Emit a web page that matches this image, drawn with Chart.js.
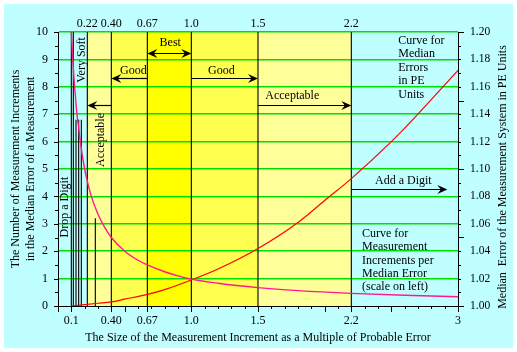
<!DOCTYPE html>
<html>
<head>
<meta charset="utf-8">
<script src="https://cdn.jsdelivr.net/npm/chart.js@4.4.1/dist/chart.umd.min.js"></script>
<style>
  body { margin: 0; background: #fff; }
  #wrap { width: 517px; height: 352px; }
</style>
</head>
<body>
<div id="wrap"><canvas id="myChart" width="517" height="352"></canvas></div>
<script>
// increment size (multiple of probable error) and the two curves
var incSize = [0.1, 0.11, 0.12, 0.13, 0.14, 0.15, 0.17, 0.2, 0.22, 0.25, 0.3, 0.35, 0.4, 0.5, 0.6, 0.67, 0.8, 0.9, 1.0, 1.2, 1.5, 1.8, 2.2, 2.6, 3.0];
var incPerError = [10, 9.1, 8.3, 7.7, 7.1, 6.7, 5.9, 5.0, 4.55, 4.0, 3.35, 2.87, 2.5, 2.0, 1.67, 1.5, 1.25, 1.1, 0.98, 0.83, 0.67, 0.56, 0.46, 0.39, 0.34];
var medSize = [0.1, 0.2, 0.3, 0.4, 0.5, 0.67, 0.8, 1.0, 1.2, 1.5, 1.8, 2.0, 2.2, 2.5, 2.67, 3.0];
var medianError = [1.000, 1.001, 1.002, 1.003, 1.005, 1.0085, 1.012, 1.019, 1.027, 1.042, 1.061, 1.077, 1.093, 1.12, 1.137, 1.172];
// vertical marker lines (x) and how high they reach on the left scale
var markLines = [0.1, 0.115, 0.135, 0.155, 0.175, 0.22, 0.28, 0.40, 0.67, 1.0, 1.5, 2.2];
var markTops = [10, 10, 6.8, 6.8, 6.8, 10, 3.2, 10, 10, 10, 10, 10];
var zoneEdges = [0.22, 0.40, 0.67, 1.0, 1.5, 2.2];
var bottomTicks = [0.1, 0.4, 0.67, 1.0, 1.5, 2.2, 3];
var bottomLabels = ['0.1', '0.40', '0.67', '1.0', '1.5', '2.2', '3'];
var topTicks = [0.22, 0.4, 0.67, 1.0, 1.5, 2.2];
var topLabels = ['0.22', '0.40', '0.67', '1.0', '1.5', '2.2'];

var FONT = '"Liberation Serif", "Times New Roman", serif';
var zoneColors = ['#FFFF99', '#FFFF50', '#FFFF00', '#FFFF50', '#FFFF99'];

function pts(xs, ys) {
    var out = [];
    for (var i = 0; i < xs.length; i++) out.push({x: xs[i], y: ys[i]});
    return out;
}

var datasets = [
    {data: pts(incSize, incPerError), yAxisID: 'y', borderColor: '#FF1A8C', borderWidth: 1.4, pointRadius: 0, cubicInterpolationMode: 'monotone'},
    {data: pts(medSize, medianError), yAxisID: 'y2', borderColor: '#FF0000', borderWidth: 1.2, pointRadius: 0, cubicInterpolationMode: 'monotone'}
];
for (var i = 0; i < markLines.length; i++) {
    datasets.push({data: [{x: markLines[i], y: 0}, {x: markLines[i], y: markTops[i]}], yAxisID: 'y',
        borderColor: '#000', borderWidth: 1.1, pointRadius: 0});
}

function arrowHead(ctx, x, y, dir) {
    ctx.beginPath();
    ctx.moveTo(x, y);
    ctx.lineTo(x - dir * 10, y - 4.5);
    ctx.lineTo(x - dir * 6.5, y);
    ctx.lineTo(x - dir * 10, y + 4.5);
    ctx.closePath();
    ctx.fill();
}
function vText(ctx, text, x, y) {
    ctx.save();
    ctx.translate(x, y);
    ctx.rotate(-Math.PI / 2);
    ctx.textAlign = 'center';
    ctx.textBaseline = 'middle';
    ctx.fillText(text, 0, 0);
    ctx.restore();
}

var decor = {
    id: 'decor',
    beforeDraw: function(chart) {
        var ctx = chart.ctx, a = chart.chartArea, xs = chart.scales.x;
        ctx.save();
        ctx.fillStyle = '#fff';
        ctx.fillRect(0, 0, chart.width, chart.height);
        ctx.fillStyle = '#C0FFFF';
        ctx.fillRect(4, 4, chart.width - 8, chart.height - 8);
        for (var i = 0; i < zoneEdges.length - 1; i++) {
            var x1 = xs.getPixelForValue(zoneEdges[i]), x2 = xs.getPixelForValue(zoneEdges[i + 1]);
            ctx.fillStyle = zoneColors[i];
            ctx.fillRect(x1, a.top, x2 - x1, a.bottom - a.top);
        }
        ctx.restore();
    },
    afterDraw: function(chart) {
        var ctx = chart.ctx, a = chart.chartArea;
        var xs = chart.scales.x, ys = chart.scales.y, y2 = chart.scales.y2;
        var X = function(v) { return xs.getPixelForValue(v); };
        var Y = function(v) { return ys.getPixelForValue(v); };
        ctx.save();
        // minor tick marks
        ctx.strokeStyle = '#000';
        ctx.lineWidth = 1;
        ctx.beginPath();
        var i, px, py, len;
        for (i = 0; i <= 30; i++) {
            px = Math.round(X(i / 10)) + 0.5;
            len = (i % 5 === 0 || i === 1 || i === 4) ? 6 : 3;
            ctx.moveTo(px, a.bottom); ctx.lineTo(px, a.bottom + len);
        }
        px = Math.round(X(0.67)) + 0.5;
        ctx.moveTo(px, a.bottom); ctx.lineTo(px, a.bottom + 6);
        px = Math.round(X(2.2)) + 0.5;
        ctx.moveTo(px, a.bottom); ctx.lineTo(px, a.bottom + 6);
        for (i = 0; i <= 20; i++) {
            py = Math.round(Y(i / 2)) + 0.5;
            ctx.moveTo(a.left, py); ctx.lineTo(a.left - (i % 2 === 0 ? 4 : 3), py);
        }
        for (i = 0; i <= 20; i++) {
            py = Math.round(y2.getPixelForValue(1 + i / 100)) + 0.5;
            ctx.moveTo(a.right, py); ctx.lineTo(a.right + (i % 5 === 0 ? 6 : 3), py);
        }
        ctx.stroke();

        // arrows
        ctx.fillStyle = '#000';
        ctx.lineWidth = 1.2;
        var arrows = [
            [0.67, 1.0, 9.23, true],
            [0.67, 0.40, 8.32, false],
            [1.0, 1.5, 8.32, false],
            [0.40, 0.22, 7.35, false],
            [1.5, 2.2, 7.35, false],
            [2.2, 2.92, 4.27, false]
        ];
        arrows.forEach(function(r) {
            var x1 = X(r[0]), x2 = X(r[1]), yy = Math.round(Y(r[2])) + 0.5;
            var dir = x2 > x1 ? 1 : -1;
            ctx.beginPath();
            ctx.moveTo(x1, yy); ctx.lineTo(x2 - dir * 6, yy);
            ctx.stroke();
            arrowHead(ctx, x2, yy, dir);
            if (r[3]) arrowHead(ctx, x1, yy, -dir);
        });

        // labels
        ctx.font = '12px ' + FONT;
        ctx.fillStyle = '#000';
        ctx.textAlign = 'center';
        ctx.textBaseline = 'middle';
        ctx.fillText('Best', X(0.842), Y(9.6));
        ctx.fillText('Good', X(0.565), Y(8.58));
        ctx.fillText('Good', X(1.225), Y(8.58));
        ctx.fillText('Acceptable', X(1.757), Y(7.66));
        ctx.fillText('Add a Digit', X(2.59), Y(4.56));
        ctx.textAlign = 'left';
        var t1 = ['Curve for', 'Median', 'Errors', 'in PE', 'Units'];
        t1.forEach(function(s, k) { ctx.fillText(s, X(2.552), Y(9.68) + k * 13.4); });
        var t2 = ['Curve for', 'Measurement', 'Increments per', 'Median Error', '(scale on left)'];
        t2.forEach(function(s, k) { ctx.fillText(s, X(2.28), Y(2.62) + k * 13.1); });
        vText(ctx, 'Very Soft', X(0.182), Y(8.98));
        vText(ctx, 'Acceptable', X(0.325), Y(6.06));
        vText(ctx, 'Drop a Digit', X(0.055), Y(3.61));
        // right axis title reads bottom to top
        vText(ctx, 'Median  Error of the Measurement System in PE Units', y2.right - 14, (a.top + a.bottom) / 2 + 8);
        ctx.restore();
    }
};

var tickFont = {family: FONT, size: 12};
new Chart(document.getElementById('myChart'), {
    type: 'line',
    data: {datasets: datasets},
    options: {
        responsive: false,
        animation: false,
        layout: {padding: 0},
        plugins: {legend: {display: false}, tooltip: {enabled: false}},
        scales: {
            x: {
                type: 'linear', position: 'bottom', min: 0, max: 3,
                afterBuildTicks: function(scale) { scale.ticks = bottomTicks.map(function(v) { return {value: v}; }); },
                afterFit: function(scale) { scale.height = 46; },
                ticks: {autoSkip: false, maxRotation: 0, padding: 8, color: '#000', font: tickFont,
                    callback: function(v, idx) { return bottomLabels[idx]; }},
                grid: {display: false, drawTicks: false},
                border: {display: true, color: '#000', width: 1},
                title: {display: true, text: 'The Size of the Measurement Increment as a Multiple of Probable Error',
                    color: '#000', font: tickFont, padding: {top: 0, bottom: 7}}
            },
            xTop: {
                type: 'linear', position: 'top', min: 0, max: 3,
                afterBuildTicks: function(scale) { scale.ticks = topTicks.map(function(v) { return {value: v}; }); },
                afterFit: function(scale) { scale.height = 32; },
                ticks: {autoSkip: false, maxRotation: 0, padding: 1, color: '#000', font: tickFont,
                    callback: function(v, idx) { return topLabels[idx]; }},
                grid: {display: false, drawTicks: false},
                border: {display: false}
            },
            y: {
                position: 'left', min: 0, max: 10,
                afterFit: function(scale) { scale.width = 58; },
                ticks: {stepSize: 1, padding: 10, color: '#000', font: tickFont},
                grid: {drawTicks: false, lineWidth: 1.5,
                    color: function(c) { return c.tick.value === 0 ? 'rgba(0,0,0,0)' : '#00E000'; }},
                border: {display: true, color: '#000', width: 1},
                title: {display: true, text: ['The Number of Measurement Increments', 'in the Median Error of a Measurement'],
                    color: '#000', font: tickFont, padding: {top: 9, bottom: 0}}
            },
            y2: {
                position: 'right', min: 1.0, max: 1.2,
                afterFit: function(scale) { scale.width = 59; },
                ticks: {stepSize: 0.02, padding: 12, color: '#000', font: {family: FONT, size: 11.5},
                    callback: function(v) { return v.toFixed(2); }},
                grid: {display: false, drawTicks: false},
                border: {display: true, color: '#000', width: 1}
            }
        }
    },
    plugins: [decor]
});
</script>
</body>
</html>
